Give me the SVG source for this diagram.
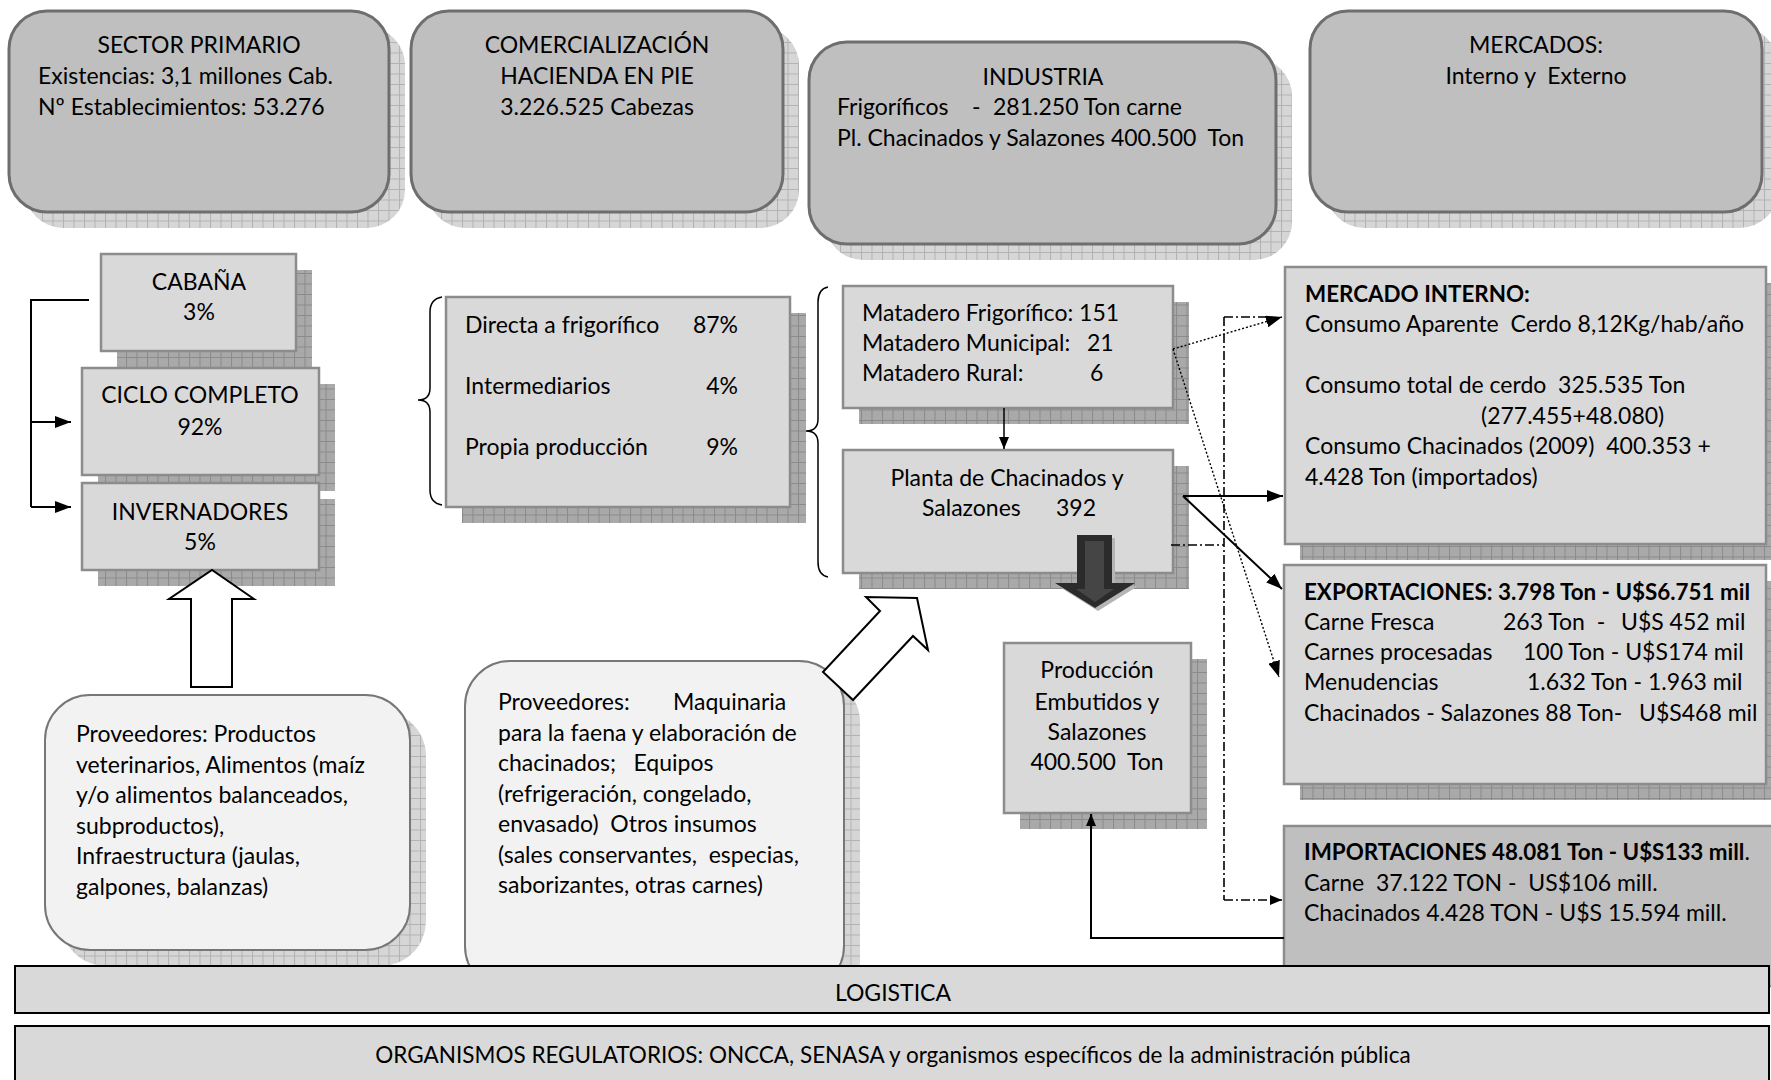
<svg xmlns="http://www.w3.org/2000/svg" width="1771" height="1080" viewBox="0 0 1771 1080">
<style>
text{font-family:Lato,"Liberation Sans",sans-serif;font-size:23px;fill:#000;white-space:pre}
.c{text-anchor:middle}
.e{text-anchor:end}
.b{font-weight:bold;font-size:22.4px}
.top{fill:#bfbfbf;stroke:#6e6e6e;stroke-width:3}
.sq{fill:#d9d9d9;stroke:#8c8c8c;stroke-width:2.5}
.prov{fill:#f2f2f2;stroke:#777;stroke-width:2}
.shD{fill:url(#gridDark)}
.shL{fill:url(#gridLight)}
.bar{fill:#d9d9d9;stroke:#000;stroke-width:2}
.ln{fill:none;stroke:#000;stroke-width:2}
.dd{fill:none;stroke:#000;stroke-width:1.6;stroke-dasharray:9 3 2 3}
.dt{fill:none;stroke:#000;stroke-width:1.4;stroke-dasharray:2 2}
.brace{fill:none;stroke:#000;stroke-width:1.5}
.blk{fill:#fff;stroke:#000;stroke-width:2}
</style>
<defs>
<pattern id="gridDark" width="10.5" height="10.5" patternUnits="userSpaceOnUse">
<rect width="10.5" height="10.5" fill="#a9a9a9"/>
<path d="M0 0.5H10.5M0.5 0V10.5" stroke="#8a8a8a" stroke-width="1"/>
</pattern>
<pattern id="gridLight" width="10.5" height="10.5" patternUnits="userSpaceOnUse">
<rect width="10.5" height="10.5" fill="#d6d6d6"/>
<path d="M0 0.5H10.5M0.5 0V10.5" stroke="#b2b2b2" stroke-width="1"/>
</pattern>
<marker id="ah" markerWidth="16" markerHeight="12" refX="16" refY="6" orient="auto" markerUnits="userSpaceOnUse">
<path d="M0 0L16 6L0 12Z" fill="#000"/>
</marker>
<marker id="ahs" markerWidth="12" markerHeight="10" refX="12" refY="5" orient="auto" markerUnits="userSpaceOnUse">
<path d="M0 0L12 5L0 10Z" fill="#000"/>
</marker>
</defs>

<!-- Top boxes -->
<g id="sector-primario">
<rect class="shL" x="25" y="27" width="380" height="201" rx="38"/>
<rect class="top" x="9" y="11" width="380" height="201" rx="38"/>
<text class="c" x="199" y="53">SECTOR PRIMARIO</text>
<text x="38" y="84">Existencias: 3,1 millones Cab.</text>
<text x="38" y="115">Nº Establecimientos: 53.276</text>
</g>
<g id="comercializacion">
<rect class="shL" x="427" y="27" width="372" height="201" rx="38"/>
<rect class="top" x="411" y="11" width="372" height="201" rx="38"/>
<text class="c" x="597" y="53">COMERCIALIZACIÓN</text>
<text class="c" x="597" y="84">HACIENDA EN PIE</text>
<text class="c" x="597" y="115">3.226.525 Cabezas</text>
</g>
<g id="industria">
<rect class="shL" x="825" y="58" width="467" height="202" rx="38"/>
<rect class="top" x="809" y="42" width="467" height="202" rx="38"/>
<text class="c" x="1043" y="85">INDUSTRIA</text>
<text x="837" y="115">Frigoríficos<tspan x="972">-</tspan><tspan x="993">281.250 Ton carne</tspan></text>
<text x="837" y="146">Pl. Chacinados y Salazones 400.500  Ton</text>
</g>
<g id="mercados">
<rect class="shL" x="1326" y="27" width="452" height="201" rx="38"/>
<rect class="top" x="1310" y="11" width="452" height="201" rx="38"/>
<text class="c" x="1536" y="53">MERCADOS:</text>
<text class="c" x="1536" y="84">Interno y  Externo</text>
</g>

<!-- Sector primario sub boxes -->
<g id="cabana">
<rect class="shD" x="117" y="270" width="195" height="97"/>
<rect class="sq" x="101" y="254" width="195" height="97"/>
<text class="c" x="199" y="290">CABAÑA</text>
<text class="c" x="199" y="320">3%</text>
</g>
<g id="ciclo-completo">
<rect class="shD" x="98" y="384" width="237" height="107"/>
<rect class="sq" x="82" y="368" width="237" height="107"/>
<text class="c" x="200" y="403">CICLO COMPLETO</text>
<text class="c" x="200" y="435">92%</text>
</g>
<g id="invernadores">
<rect class="shD" x="98" y="499" width="237" height="87"/>
<rect class="sq" x="82" y="483" width="237" height="87"/>
<text class="c" x="200" y="520">INVERNADORES</text>
<text class="c" x="200" y="550">5%</text>
</g>

<!-- Comercializacion breakdown -->
<g id="canales">
<path class="brace" d="M442 297 Q430 299 430 312 V388 Q430 400 418 400 Q430 400 430 412 V490 Q430 503 442 505"/>
<rect class="shD" x="462" y="313" width="344" height="210"/>
<rect class="sq" x="446" y="297" width="344" height="210"/>
<text x="465" y="333">Directa a frigorífico</text>
<text class="e" x="738" y="333">87%</text>
<text x="465" y="394">Intermediarios</text>
<text class="e" x="738" y="394">4%</text>
<text x="465" y="455">Propia producción</text>
<text class="e" x="738" y="455">9%</text>
</g>

<!-- Industria breakdown -->
<path class="brace" d="M828 287 Q818 289 818 302 V419 Q818 431 806 431 Q818 431 818 443 V562 Q818 575 828 577"/>
<g id="mataderos">
<rect class="shD" x="859" y="302" width="330" height="122"/>
<rect class="sq" x="843" y="286" width="330" height="122"/>
<text x="862" y="321">Matadero Frigorífico: 151</text>
<text x="862" y="351">Matadero Municipal:<tspan x="1087">21</tspan></text>
<text x="862" y="381">Matadero Rural:<tspan x="1090">6</tspan></text>
</g>
<g id="planta">
<rect class="shD" x="859" y="466" width="330" height="123"/>
<rect class="sq" x="843" y="450" width="330" height="123"/>
<text class="c" x="1007" y="486">Planta de Chacinados y</text>
<text x="922" y="516">Salazones<tspan x="1056">392</tspan></text>
</g>
<g id="produccion">
<rect class="shD" x="1020" y="659" width="187" height="170"/>
<rect class="sq" x="1004" y="643" width="187" height="170"/>
<text class="c" x="1097" y="678">Producción</text>
<text class="c" x="1097" y="710">Embutidos y</text>
<text class="c" x="1097" y="740">Salazones</text>
<text class="c" x="1097" y="770">400.500  Ton</text>
</g>

<!-- Mercados breakdown -->
<g id="mercado-interno">
<rect class="shD" x="1300" y="283" width="482" height="277"/>
<rect class="sq" x="1285" y="267" width="481" height="277"/>
<text class="b" x="1305" y="302">MERCADO INTERNO:</text>
<text x="1305" y="332">Consumo Aparente  Cerdo 8,12Kg/hab/año</text>
<text x="1305" y="393">Consumo total de cerdo  325.535 Ton</text>
<text x="1481" y="424">(277.455+48.080)</text>
<text x="1305" y="454">Consumo Chacinados (2009)  400.353 +</text>
<text x="1305" y="485">4.428 Ton (importados)</text>
</g>
<g id="exportaciones">
<rect class="shD" x="1300" y="581" width="482" height="219"/>
<rect class="sq" x="1284" y="565" width="482" height="219"/>
<text class="b" x="1304" y="600">EXPORTACIONES: 3.798 Ton - U$S6.751 mil</text>
<text x="1304" y="630">Carne Fresca<tspan x="1503">263 Ton  -</tspan><tspan x="1621">U$S 452 mil</tspan></text>
<text x="1304" y="660">Carnes procesadas<tspan x="1523">100 Ton - U$S174 mil</tspan></text>
<text x="1304" y="690">Menudencias<tspan x="1527">1.632 Ton - 1.963 mil</tspan></text>
<text x="1304" y="721">Chacinados - Salazones 88 Ton-<tspan x="1639">U$S468 mil</tspan></text>
</g>
<g id="importaciones">
<rect x="1284" y="826" width="490" height="160" fill="#bfbfbf" stroke="#8c8c8c" stroke-width="2.5"/>
<text x="1304" y="860"><tspan class="b">IMPORTACIONES 48.081 Ton - U$S133 mill</tspan>.</text>
<text x="1304" y="891">Carne  37.122 TON -  US$106 mill.</text>
<text x="1304" y="921">Chacinados 4.428 TON - U$S 15.594 mill.</text>
</g>

<!-- Proveedores -->
<g id="proveedores-primario">
<rect class="shL" x="61" y="711" width="365" height="255" rx="45"/>
<rect class="prov" x="45" y="695" width="365" height="255" rx="45"/>
<text x="76" y="742">Proveedores: Productos</text>
<text x="76" y="773">veterinarios, Alimentos (maíz</text>
<text x="76" y="803">y/o alimentos balanceados,</text>
<text x="76" y="834">subproductos),</text>
<text x="76" y="864">Infraestructura (jaulas,</text>
<text x="76" y="895">galpones, balanzas)</text>
</g>
<g id="proveedores-industria">
<rect class="shL" x="481" y="677" width="379" height="330" rx="45"/>
<rect class="prov" x="465" y="661" width="379" height="330" rx="45"/>
<text x="498" y="710">Proveedores:<tspan x="673">Maquinaria</tspan></text>
<text x="498" y="741">para la faena y elaboración de</text>
<text x="498" y="771">chacinados;   Equipos</text>
<text x="498" y="802">(refrigeración, congelado,</text>
<text x="498" y="832">envasado)  Otros insumos</text>
<text x="498" y="863">(sales conservantes,  especias,</text>
<text x="498" y="893">saborizantes, otras carnes)</text>
</g>

<!-- Connectors -->
<g id="connectors">
<polyline class="ln" points="89,300 31,300 31,507"/>
<line class="ln" x1="31" y1="422" x2="71" y2="422" marker-end="url(#ah)"/>
<line class="ln" x1="31" y1="507" x2="71" y2="507" marker-end="url(#ah)"/>
<polygon class="blk" points="191,687 191,599 169,599 212,570 254,599 232,599 232,687"/>
<polygon class="blk" points="823,672 880,611 866,597 917,598 928,650 913,636 853,700"/>
<line x1="1004" y1="408" x2="1004" y2="449" stroke="#000" stroke-width="1.5" marker-end="url(#ahs)"/>
<g id="dark-arrow">
<polygon points="1080,538 1115,538 1115,586 1138,586 1098,611 1058,586 1080,586" fill="#b5b5b5"/>
<polygon points="1077,535 1112,535 1112,583 1135,583 1095,608 1055,583 1077,583" fill="#2b2b2b"/>
<polygon points="1085,541 1104,541 1104,589 1114,589 1095,602 1076,589 1085,589" fill="#454545"/>
</g>
<polyline class="dd" points="1171,545 1224,545"/>
<line class="dd" x1="1224" y1="317" x2="1224" y2="900"/>
<line class="dd" x1="1224" y1="317" x2="1266" y2="317"/>
<line class="dd" x1="1224" y1="900" x2="1282" y2="900" marker-end="url(#ahs)"/>
<line class="dt" x1="1173" y1="349" x2="1282" y2="317" marker-end="url(#ah)"/>
<line class="dt" x1="1173" y1="349" x2="1279" y2="677" marker-end="url(#ah)"/>
<line class="ln" x1="1183" y1="496" x2="1283" y2="496" marker-end="url(#ah)"/>
<line class="ln" x1="1183" y1="496" x2="1282" y2="589" marker-end="url(#ah)"/>
<polyline class="ln" points="1284,938 1091,938 1091,814" marker-end="url(#ahs)"/>
</g>

<!-- Bottom bars -->
<g id="logistica">
<rect class="bar" x="15" y="966" width="1754" height="47"/>
<text class="c" x="893" y="1001">LOGISTICA</text>
</g>
<g id="organismos">
<rect class="bar" x="15" y="1026" width="1754" height="70"/>
<text class="c" x="893" y="1063" style="font-size:22.5px">ORGANISMOS REGULATORIOS: ONCCA, SENASA y organismos específicos de la administración pública</text>
</g>
</svg>
